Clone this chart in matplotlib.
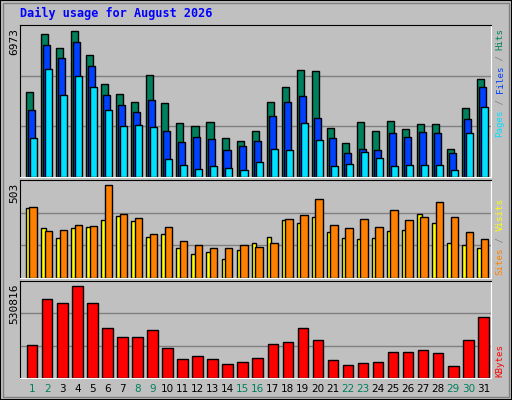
import matplotlib
matplotlib.use("Agg")
import matplotlib.pyplot as plt
from matplotlib.patches import Rectangle
import numpy as np

days = list(range(1, 32))
weekend = [1, 2, 8, 9, 15, 16, 22, 23, 29, 30]

hits = [3982, 6679, 6028, 6818, 5703, 4354, 3889, 3518, 4773, 3471, 2541, 2402, 2588, 1844, 1705, 2169,
        3518, 4215, 5005, 4959, 2309, 1612, 2588, 2169, 2634, 2262, 2495, 2495, 1333, 3239, 4587]
files = [3146, 6167, 5563, 6307, 5191, 3843, 3378, 3053, 3611, 2169, 1658, 1890, 1798, 1286, 1472, 1705,
         2867, 3518, 3797, 2774, 1844, 1100, 1333, 1286, 2077, 1890, 2123, 2077, 1100, 2727, 4215]
pages = [1844, 5052, 3843, 4726, 4215, 3146, 2402, 2448, 2355, 821, 542, 356, 496, 403, 310, 682,
         1333, 1286, 2541, 1751, 496, 589, 1147, 868, 496, 542, 542, 542, 310, 2077, 3285]
visits = [377, 268, 213, 268, 273, 312, 333, 306, 219, 235, 159, 131, 142, 104, 153, 186,
          219, 312, 295, 328, 246, 213, 208, 213, 251, 257, 344, 295, 186, 180, 159]
sites = [383, 251, 257, 284, 279, 503, 344, 322, 235, 273, 197, 180, 164, 164, 180, 169,
         191, 317, 339, 426, 284, 268, 317, 273, 366, 312, 328, 410, 328, 246, 208]
kbytes = [193700, 461000, 437800, 530816, 437800, 292500, 240200, 240200, 280900, 176300, 112300,
          129800, 112300, 83300, 94900, 118200, 199500, 211100, 292500, 222800, 106500, 77500,
          89100, 94900, 153000, 153000, 164600, 147200, 71700, 222800, 356400]

W, H = 512, 400
BG = "#c0c0c0"
MONO = "DejaVu Sans Mono"

fig = plt.figure(figsize=(W / 100, H / 100), dpi=100, facecolor=BG)

# outer bevel
fig.add_artist(Rectangle((0, 0), 1, 1, transform=fig.transFigure, fill=False, ec="black", lw=1.5))
fig.add_artist(Rectangle((3 / W, 3 / H), 1 - 6 / W, 1 - 6 / H, transform=fig.transFigure,
                         fill=False, ec="#808080", lw=1))

fig.text(20 / W, 1 - 13 / H, "Daily usage for August 2026", color="#0000ff", fontsize=8.5,
         fontweight="bold", family=MONO, va="center", ha="left")


def panel(top, bottom):
    ax = fig.add_axes([20 / W, 1 - bottom / H, 471 / W, (bottom - top) / H])
    ax.set_facecolor(BG)
    ax.set_xlim(0.34, 31.66)
    ax.set_xticks([])
    ax.set_yticks([])
    for s in ax.spines.values():
        s.set_color("black")
    ax.spines["right"].set_color("white")
    ax.spines["bottom"].set_color("white")
    return ax


def grid(ax, vmax):
    for f in (1 / 3, 2 / 3):
        ax.axhline(vmax * f, color="#808080", lw=1, zorder=0)


def right_label(bottom, parts):
    # parts listed bottom-to-top
    x = 500 / W
    y = 1 - bottom / H
    step = 5.45 / H
    for txt, col in parts:
        fig.text(x, y, txt, color=col, rotation=90, fontsize=6.6, family=MONO, ha="center", va="bottom")
        y += step * len(txt)


d = np.array(days)
bw = dict(edgecolor="black", linewidth=1)

# top panel
ax1 = panel(25, 177)
ax1.set_ylim(0, 6973 * 1.02)
grid(ax1, 6973 * 1.02)
ax1.bar(d - 0.26, hits, 0.47, color="#00805c", align="edge", **bw)
ax1.bar(d - 0.13, files, 0.47, color="#0040ff", align="edge", **bw)
ax1.bar(d, pages, 0.47, color="#00e0ff", align="edge", **bw)
fig.text(14 / W, 1 - 28 / H, "6973", rotation=90, fontsize=8, family=MONO, ha="center", va="top")
right_label(137, [("Pages", "#00e0ff"), (" / ", "#808080"), ("Files", "#0040ff"),
                  (" / ", "#808080"), ("Hits", "#00805c")])

# middle panel
ax2 = panel(180, 278)
ax2.set_ylim(0, 503 * 1.05)
grid(ax2, 503 * 1.05)
ax2.bar(d - 0.26, visits, 0.3, color="#ffff00", align="edge", **bw)
ax2.bar(d - 0.03, sites, 0.5, color="#ff8000", align="edge", **bw)
fig.text(14 / W, 1 - 183 / H, "503", rotation=90, fontsize=8, family=MONO, ha="center", va="top")
right_label(275, [("Sites", "#ff8000"), (" / ", "#808080"), ("Visits", "#ffff00")])

# bottom panel
ax3 = panel(281, 378)
ax3.set_ylim(0, 530816 * 1.06)
grid(ax3, 530816 * 1.06)
ax3.bar(d - 0.2, kbytes, 0.7, color="#ff0000", align="edge", **bw)
fig.text(14 / W, 1 - 284 / H, "530816", rotation=90, fontsize=8, family=MONO, ha="center", va="top")
right_label(377, [("KBytes", "#ff0000")])

for day in days:
    xf = ax3.transData.transform((day + 0.15, 0))
    xfig = fig.transFigure.inverted().transform(xf)[0]
    fig.text(xfig, 1 - 389 / H, str(day), color="#00805c" if day in weekend else "black",
             fontsize=7.5, ha="center", va="center")

fig.savefig("out.png", dpi=100, facecolor=BG)
